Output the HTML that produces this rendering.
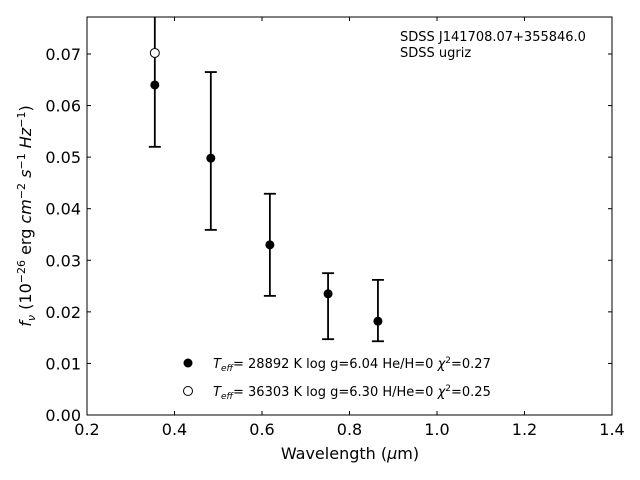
<!DOCTYPE html>
<html><head><meta charset="utf-8"><style>
body{margin:0;background:#fff}
svg{display:block;font-family:"DejaVu Sans","Liberation Sans",sans-serif}
</style></head><body>
<svg id="c" width="640" height="480">
<rect x="87" y="17" width="525" height="398" fill="#fff" stroke="#000" stroke-width="1"/>
<g id="ticks"></g>
<g id="marks"></g>
<text x="350" y="459" font-size="16" text-anchor="middle">Wavelength (<tspan font-style="italic">μ</tspan>m)</text>
<text transform="translate(31,216) rotate(-90)" font-size="16" text-anchor="middle"><tspan font-style="italic">f</tspan><tspan font-style="italic" font-size="11" dy="4">ν</tspan><tspan dy="-4"> (10</tspan><tspan font-size="11" dy="-6">−26</tspan><tspan dy="6"> erg </tspan><tspan font-style="italic">cm</tspan><tspan font-size="11" dy="-6">−2</tspan><tspan dy="6"> </tspan><tspan font-style="italic">s</tspan><tspan font-size="11" dy="-6">−1</tspan><tspan dy="6"> </tspan><tspan font-style="italic">Hz</tspan><tspan font-size="11" dy="-6">−1</tspan><tspan dy="6">)</tspan></text>
<text x="400" y="41" font-size="13">SDSS J141708.07+355846.0</text>
<text x="400" y="57" font-size="13">SDSS ugriz</text>
<g>
<circle cx="188" cy="363" r="4.5" fill="#000"/>
<text x="213" y="368" font-size="13"><tspan font-style="italic">T</tspan><tspan font-style="italic" font-size="9" dy="3">eff</tspan><tspan dy="-3">= 28892 K  log g=6.04  He/H=0  </tspan><tspan font-style="italic">χ</tspan><tspan font-size="9" dy="-5">2</tspan><tspan dy="5">=0.27</tspan></text>
<circle cx="188" cy="391" r="4.5" fill="#fff" stroke="#000"/>
<text x="213" y="396" font-size="13"><tspan font-style="italic">T</tspan><tspan font-style="italic" font-size="9" dy="3">eff</tspan><tspan dy="-3">= 36303 K  log g=6.30  H/He=0  </tspan><tspan font-style="italic">χ</tspan><tspan font-size="9" dy="-5">2</tspan><tspan dy="5">=0.25</tspan></text>
</g>
</svg>
<script>
const wavelengths=[0.355,0.483,0.618,0.751,0.865];
const fluxes=[0.064,0.0498,0.033,0.0235,0.0182];
const errLow=[0.012,0.0139,0.0099,0.0088,0.0039];
const errHigh=[0.015,0.0167,0.0099,0.004,0.008];
const modelWavelengths=[0.355];
const modelFluxes=[0.0702];
const xTicks=[0.2,0.4,0.6,0.8,1.0,1.2,1.4];
const xTickLabels=["0.2","0.4","0.6","0.8","1.0","1.2","1.4"];
const yTicks=[0,0.01,0.02,0.03,0.04,0.05,0.06,0.07];
const yTickLabels=["0.00","0.01","0.02","0.03","0.04","0.05","0.06","0.07"];
const L=87,R=612,T=17,B=415;
const X=v=>L+(v-0.2)/1.2*(R-L);
const Y=v=>B-v/0.07*361;
const NS="http://www.w3.org/2000/svg";
function mk(tag,attrs,parent){const e=document.createElementNS(NS,tag);for(const k in attrs)e.setAttribute(k,attrs[k]);parent.appendChild(e);return e;}
const tg=document.getElementById('ticks'),mg=document.getElementById('marks');
xTicks.forEach((t,i)=>{const x=X(t);
const a=mk('line',{x1:x,x2:x,y1:B,y2:B-4,stroke:'#000'},tg);


const b=mk('line',{x1:x,x2:x,y1:T,y2:T+4,stroke:'#000'},tg);


const s=mk('text',{x:x,y:B+20,'font-size':16,'text-anchor':'middle'},tg);s.textContent=xTickLabels[i];

});
yTicks.forEach((t,i)=>{const y=Y(t);
const a=mk('line',{x1:L,x2:L+4,y1:y,y2:y,stroke:'#000'},tg);


const b=mk('line',{x1:R,x2:R-4,y1:y,y2:y,stroke:'#000'},tg);


const s=mk('text',{x:L-6,y:y+6,'font-size':16,'text-anchor':'end'},tg);s.textContent=yTickLabels[i];

});
const clip=mk('clipPath',{id:'pc'},mg);mk('rect',{x:L,y:T,width:R-L,height:B-T},clip);
const g=mk('g',{'clip-path':'url(#pc)'},mg);
wavelengths.forEach((w,i)=>{const x=X(w),yt=Y(fluxes[i]+errHigh[i]),yb=Y(fluxes[i]-errLow[i]);
const eb=mk('g',{stroke:'#000','stroke-width':1.8},g);


mk('line',{x1:x,x2:x,y1:yt,y2:yb},eb);
mk('line',{x1:x-6,x2:x+6,y1:yt,y2:yt},eb);
mk('line',{x1:x-6,x2:x+6,y1:yb,y2:yb},eb);});
wavelengths.forEach((w,i)=>{const c=mk('circle',{cx:X(w),cy:Y(fluxes[i]),r:4.5,fill:'#000'},g);

});
modelWavelengths.forEach((w,i)=>{const c=mk('circle',{cx:X(w),cy:Y(modelFluxes[i]),r:4.5,fill:'#fff',stroke:'#000'},g);

});
</script>
</body></html>
